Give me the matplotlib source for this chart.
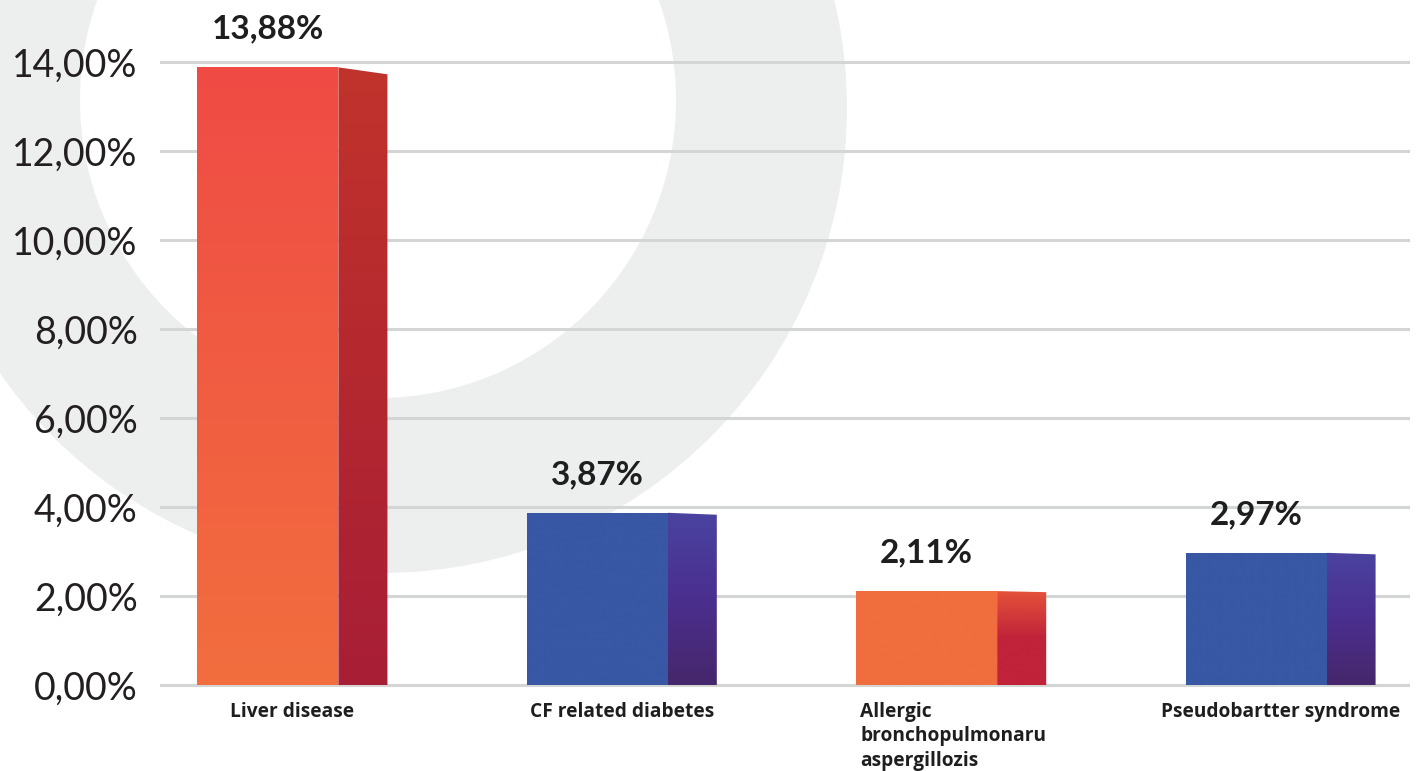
import numpy as np
import matplotlib
matplotlib.use("Agg")
import matplotlib.pyplot as plt
from matplotlib.patches import Polygon, Circle
from matplotlib.colors import to_rgb

# ---- data ----
categories = ["Liver disease", "CF related diabetes",
              "Allergic\nbronchopulmonaru\naspergillozis", "Pseudobartter syndrome"]
values = [13.88, 3.87, 2.11, 2.97]
value_labels = ["13,88%", "3,87%", "2,11%", "2,97%"]
yticks = [0, 2, 4, 6, 8, 10, 12, 14]
ytick_labels = ["0,00%", "2,00%", "4,00%", "6,00%", "8,00%", "10,00%", "12,00%", "14,00%"]

# gradient stops (top -> bottom) for the front and side faces of each bar
front_colors = [["#EF4B45", "#F26E3E"], ["#3857A4", "#3857A4"],
                ["#F06D3E", "#F06D3E"], ["#3857A4", "#3857A4"]]
side_colors = [["#C1332C", "#B4282F", "#A81E36"],
               ["#4A43A0", "#4B2F8F", "#46276B"],
               ["#E4523A", "#C0233A", "#C0233A"],
               ["#4A43A0", "#4B2F8F", "#46276B"]]

W, H = 1421, 771
fig = plt.figure(figsize=(W / 100, H / 100), dpi=100)

# background decoration: a large pale ring behind the chart
bg = fig.add_axes([0, 0, 1, 1])
bg.set_xlim(0, W)
bg.set_ylim(H, 0)
bg.axis("off")
bg.add_patch(Circle((382, 108), 465, color="#EDEFEE", lw=0))
bg.add_patch(Circle((378, 100), 298, color="white", lw=0))

# plot area
px_left, px_right = 160, 1410
px_top, px_bot = 20, 700
y0_px, unit_px = 685, 44.5
ax = fig.add_axes([px_left / W, 1 - px_bot / H, (px_right - px_left) / W, (px_bot - px_top) / H])
ax.patch.set_alpha(0)
ylim = ((y0_px - px_bot) / unit_px, (y0_px - px_top) / unit_px)
xlim = (-0.402, 3.393)

front_w, side_w = 0.428, 0.149
total_w = front_w + side_w

# gridlines
for t in yticks:
    ax.axhline(t, color="#D4D6D5", lw=2.2, zorder=1)


def gradient_fill(poly_xy, stops, ytop, ybot):
    poly = Polygon(poly_xy, closed=True, facecolor="none", edgecolor="none")
    ax.add_patch(poly)
    n = 256
    pos = np.linspace(0, 1, len(stops))
    rgb = np.array([to_rgb(c) for c in stops])
    t = np.linspace(0, 1, n)
    img = np.stack([np.interp(t, pos, rgb[:, k]) for k in range(3)], axis=-1)[:, None, :]
    xs = [p[0] for p in poly_xy]
    im = ax.imshow(img, extent=[min(xs), max(xs), ybot, ytop], origin="upper",
                   aspect="auto", interpolation="bilinear", zorder=3)
    im.set_clip_path(poly)


for i, v in enumerate(values):
    left = i - total_w / 2
    mid = left + front_w
    right = left + total_w
    front = [(left, 0), (left, v), (mid, v), (mid, 0)]
    gradient_fill(front, front_colors[i], v, 0)
    v_side = v * (1 - 0.0113)
    side = [(mid, 0), (mid, v), (right, v_side), (right, 0)]
    gradient_fill(side, side_colors[i], v, 0)

    ax.annotate(value_labels[i], xy=(left + front_w / 2, v), xytext=(0, 17),
                textcoords="offset points", ha="center", va="bottom",
                fontsize=24, fontweight="bold", family="Lato", color="#1E1E20",
                annotation_clip=False)

    if "\n" in categories[i]:
        ax.text(left + 0.012, -0.38, categories[i], ha="left", va="top",
                fontsize=13.8, fontweight="bold", family="Open Sans",
                color="#1E1E20", linespacing=1.3, clip_on=False)
    else:
        ax.text(i, -0.38, categories[i], ha="center", va="top",
                fontsize=13.8, fontweight="bold", family="Open Sans",
                color="#1E1E20", clip_on=False)

ax.set_xlim(*xlim)
ax.set_ylim(*ylim)
ax.set_xticks([])
ax.set_yticks(yticks)
ax.set_yticklabels(ytick_labels, fontsize=27, family="Lato", color="#231F20")
ax.tick_params(axis="y", length=0, pad=16)
for s in ax.spines.values():
    s.set_visible(False)

fig.savefig("out.png", dpi=100)
